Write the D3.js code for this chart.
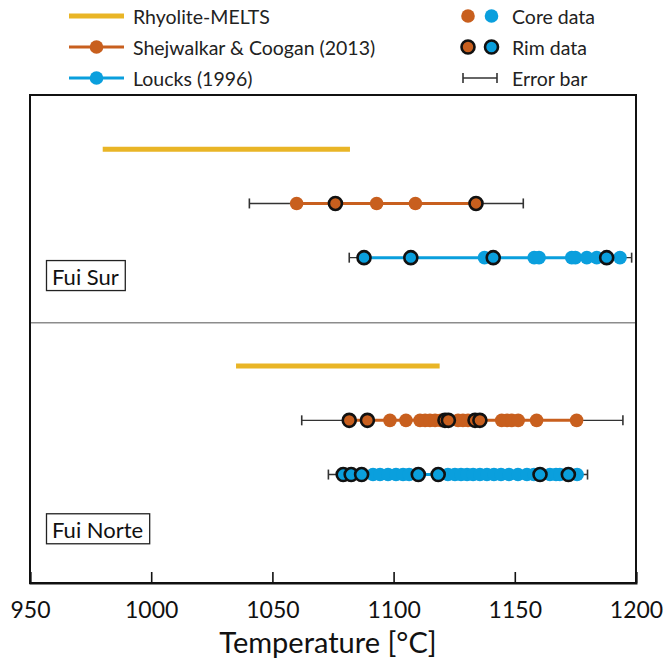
<!DOCTYPE html>
<html>
<head>
<meta charset="utf-8">
<script src="https://cdn.jsdelivr.net/npm/d3@7"></script>
<style>
  html, body { margin: 0; padding: 0; background: #fff; }
  svg { display: block; font-family: Lato, "Open Sans", sans-serif; }
</style>
</head>
<body>
<svg id="chart" width="668" height="666"></svg>
<script>
// ---------------- DATA ----------------
const xTicks = [950, 1000, 1050, 1100, 1150, 1200];
const panelNames = ["Fui Sur", "Fui Norte"];
const seriesNames = ["Rhyolite-MELTS", "Shejwalkar & Coogan (2013)", "Loucks (1996)"];

// Rhyolite-MELTS temperature ranges
const surMelts = [980, 1082];
const norteMelts = [1035, 1119];

// Fui Sur - Shejwalkar & Coogan (2013)
const surShejCore = [1060, 1093, 1109];
const surShejRim = [1076, 1134];
const surShejErr = [1040.5, 1153.5];

// Fui Sur - Loucks (1996)
const surLoucksCore = [1137.5, 1158, 1160, 1173.5, 1175, 1179.7, 1183.8, 1193.4];
const surLoucksRim = [1087.8, 1107.1, 1141.1, 1187.9];
const surLoucksErr = [1081.7, 1198.2];

// Fui Norte - Shejwalkar & Coogan (2013)
const norteShejCore = [1098.5, 1105.1, 1110.9, 1113, 1115, 1117.1, 1119.5, 1126.6, 1128.6, 1130.7,
                       1144.6, 1146.8, 1148.8, 1151.4, 1159, 1175.5];
const norteShejRim = [1081.7, 1089.2, 1121.2, 1122.6, 1133.6, 1135.6];
const norteShejErr = [1062.1, 1194.6];

// Fui Norte - Loucks (1996)
const norteLoucksCore = [1091.5, 1094.4, 1097.7, 1101, 1103.9, 1106.4, 1122.4, 1125.3, 1127.8, 1130.3,
                         1132.8, 1135.6, 1138.5, 1141.4, 1144.3, 1147.6, 1151.3, 1155, 1157.9,
                         1164.5, 1167, 1168.6, 1175.7];
const norteLoucksRim = [1079.2, 1082.5, 1086.8, 1110.2, 1118.4, 1160.4, 1172.1];
const norteLoucksErr = [1073.1, 1180];

// ---------------- STYLE ----------------
const cMelts = "#E9B526";
const cShej = "#C85F1E";
const cLoucks = "#0A9FDD";
const cErr = "#333333";

// ---------------- LAYOUT ----------------
const svg = d3.select("#chart");
const mLeft = 30, mRight = 636, mTop = 95, mBottom = 583;

const x = d3.scaleLinear().domain([950, 1200]).range([mLeft, mRight]);
// row scale: rows 1..3 for Fui Sur, 5..7 for Fui Norte
const y = d3.scaleLinear().domain([0, 9]).range([mTop, mBottom]);

const rows = [
  {type: "melts", row: 1, range: surMelts},
  {type: "pts", row: 2, color: cShej, core: surShejCore, rim: surShejRim, err: surShejErr},
  {type: "pts", row: 3, color: cLoucks, core: surLoucksCore, rim: surLoucksRim, err: surLoucksErr},
  {type: "melts", row: 5, range: norteMelts},
  {type: "pts", row: 6, color: cShej, core: norteShejCore, rim: norteShejRim, err: norteShejErr},
  {type: "pts", row: 7, color: cLoucks, core: norteLoucksCore, rim: norteLoucksRim, err: norteLoucksErr}
];

const plot = svg.append("g");

// divider between panels
plot.append("line")
  .attr("x1", mLeft).attr("x2", mRight)
  .attr("y1", y(4.2)).attr("y2", y(4.2))
  .attr("stroke", "#8c8c8c").attr("stroke-width", 1.5);

const R = 6.8;
rows.forEach(r => {
  const g = plot.append("g");
  const yy = y(r.row);
  if (r.type === "melts") {
    g.append("line")
      .attr("x1", x(r.range[0])).attr("x2", x(r.range[1]))
      .attr("y1", yy).attr("y2", yy)
      .attr("stroke", cMelts).attr("stroke-width", 5);
    return;
  }
  // error bar
  g.append("line")
    .attr("x1", x(r.err[0])).attr("x2", x(r.err[1]))
    .attr("y1", yy).attr("y2", yy)
    .attr("stroke", cErr).attr("stroke-width", 1.4);
  g.selectAll("line.cap").data(r.err).join("line")
    .attr("class", "cap")
    .attr("x1", d => x(d)).attr("x2", d => x(d))
    .attr("y1", yy - 5).attr("y2", yy + 5)
    .attr("stroke", cErr).attr("stroke-width", 1.6);
  // coloured line across points
  const all = r.core.concat(r.rim);
  const ext = d3.extent(all);
  g.append("line")
    .attr("x1", x(ext[0])).attr("x2", x(ext[1]))
    .attr("y1", yy).attr("y2", yy)
    .attr("stroke", r.color).attr("stroke-width", 3);
  g.selectAll("circle.core").data(r.core).join("circle")
    .attr("class", "core")
    .attr("cx", d => x(d)).attr("cy", yy).attr("r", R)
    .attr("fill", r.color);
  g.selectAll("circle.rim").data(r.rim).join("circle")
    .attr("class", "rim")
    .attr("cx", d => x(d)).attr("cy", yy).attr("r", R - 0.3)
    .attr("fill", r.color)
    .attr("stroke", "#111").attr("stroke-width", 2.6);
});

// panel labels
[{name: panelNames[0], row: 3.33}, {name: panelNames[1], row: 8.0}].forEach(p => {
  const t = plot.append("text")
    .attr("x", 52).attr("y", y(p.row) + 1)
    .attr("dominant-baseline", "central")
    .attr("font-size", 22).attr("fill", "#111")
    .text(p.name);
  const bb = t.node().getBBox();
  plot.insert("rect", "text")
    .attr("x", 46.5).attr("y", y(p.row) - 15)
    .attr("width", bb.width + 12).attr("height", 30)
    .attr("fill", "#fff").attr("stroke", "#222").attr("stroke-width", 1.3);
});

// frame
plot.append("rect")
  .attr("x", mLeft).attr("y", mTop)
  .attr("width", mRight - mLeft).attr("height", mBottom - mTop)
  .attr("fill", "none").attr("stroke", "#111").attr("stroke-width", 2);

// x axis
const axis = d3.axisBottom(x).tickValues(xTicks).tickSize(-11).tickPadding(19).tickFormat(d3.format("d"));
const ax = svg.append("g").attr("transform", `translate(0,${mBottom})`).call(axis);
ax.select(".domain").attr("stroke", "#111").attr("stroke-width", 2);
ax.selectAll(".tick line").attr("stroke", "#111").attr("stroke-width", 1.6);
ax.selectAll(".tick text")
  .attr("font-family", "Lato, 'Open Sans', sans-serif")
  .attr("font-size", 23).attr("fill", "#111");

svg.append("text")
  .attr("x", (mLeft + mRight) / 2 - 5).attr("y", 653)
  .attr("text-anchor", "middle")
  .attr("font-size", 29).attr("fill", "#111")
  .text("Temperature [°C]");

// ---------------- LEGEND ----------------
const leg = svg.append("g").attr("font-size", 19.5).attr("fill", "#222");
const legY = [16, 47, 78];
// left column
leg.append("line").attr("x1", 69).attr("x2", 124).attr("y1", legY[0]).attr("y2", legY[0])
  .attr("stroke", cMelts).attr("stroke-width", 5);
[cShej, cLoucks].forEach((c, i) => {
  leg.append("line").attr("x1", 69).attr("x2", 124).attr("y1", legY[i + 1]).attr("y2", legY[i + 1])
    .attr("stroke", c).attr("stroke-width", 3);
  leg.append("circle").attr("cx", 96.5).attr("cy", legY[i + 1]).attr("r", R).attr("fill", c);
});
seriesNames.forEach((n, i) => {
  leg.append("text").attr("x", 133).attr("y", legY[i]).attr("dominant-baseline", "central").text(n);
});
// right column
[cShej, cLoucks].forEach((c, i) => {
  leg.append("circle").attr("cx", 468 + i * 23.5).attr("cy", legY[0]).attr("r", R).attr("fill", c);
  leg.append("circle").attr("cx", 468 + i * 23.5).attr("cy", legY[1]).attr("r", R - 0.3)
    .attr("fill", c).attr("stroke", "#111").attr("stroke-width", 2.6);
});
leg.append("line").attr("x1", 463).attr("x2", 497).attr("y1", legY[2]).attr("y2", legY[2])
  .attr("stroke", cErr).attr("stroke-width", 1.4);
[463, 497].forEach(px => leg.append("line").attr("x1", px).attr("x2", px)
  .attr("y1", legY[2] - 5).attr("y2", legY[2] + 5).attr("stroke", cErr).attr("stroke-width", 1.6));
["Core data", "Rim data", "Error bar"].forEach((n, i) => {
  leg.append("text").attr("x", 512).attr("y", legY[i]).attr("dominant-baseline", "central").text(n);
});
</script>
</body>
</html>
